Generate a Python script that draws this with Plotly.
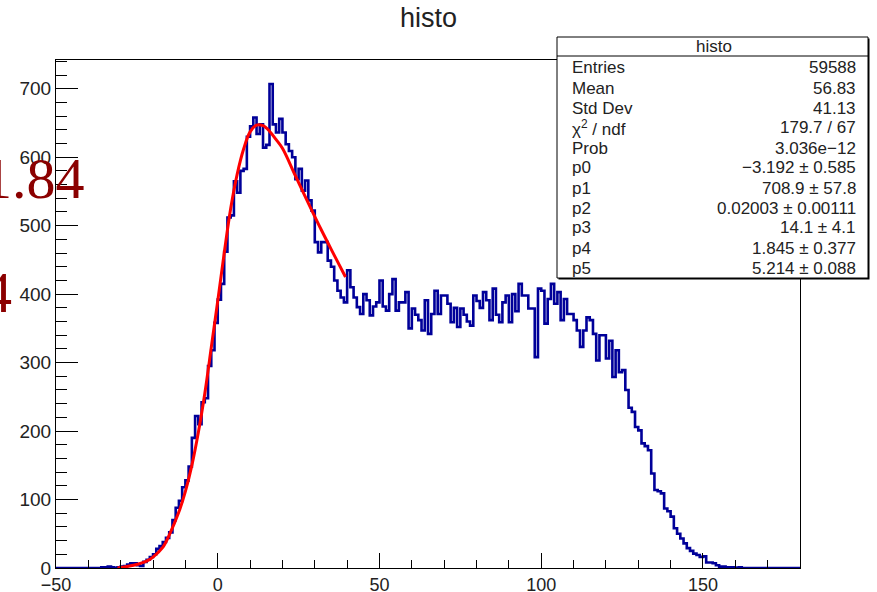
import numpy as np
import plotly.graph_objects as go

# ---------------- data ----------------
bin_low = -50
bin_width = 1
counts = (
    [0] * 14
    + [1, 1, 2, 1, 0, 1, 2, 3, 5, 7, 7, 4, 3, 9, 12, 16, 20, 28, 32, 38,
       44, 52, 70, 88, 98, 118, 128, 148, 190, 222, 210, 242, 248, 295, 318, 358]
    + [392, 415, 462, 512, 515, 565, 548, 580, 583, 630, 645, 658, 634, 648, 614,
       618, 707, 648, 636, 656, 636, 619, 609, 600, 568, 583, 551, 566, 537, 522,
       476, 461, 476, 476, 449, 440, 420, 405, 395, 388]
    + [435, 410, 395, 381, 371, 400, 391, 369, 382, 388, 420, 382, 376, 400, 422,
       376, 388, 388, 403, 350, 379, 370, 362, 347, 391, 342, 371, 405, 371, 398,
       398, 386, 359, 380, 352, 379, 370, 360, 354, 398]
    + [390, 380, 403, 391, 362, 408, 370, 359, 388, 398, 359, 400, 375, 415, 398,
       398, 379, 379, 308, 408, 405, 357, 393, 415, 386, 403, 362, 393, 371, 371,
       362, 347, 323, 347, 366, 362, 342, 303, 340, 340]
    + [306, 332, 279, 318, 286, 289, 260, 234, 228, 206, 201, 182, 178, 172, 138,
       114, 112, 109, 87, 83, 75, 58, 50, 43, 36, 29, 25, 21, 19, 16, 17, 8, 8, 7,
       4, 2, 2, 1, 1, 1, 0, 1]
    + [0] * 18
)

fit_x = [-31, -26, -22, -20, -17, -15, -12, -10, -8, -6, -4, -2, 0, 2, 4, 6, 8,
         10, 12, 14, 16, 18, 20, 24, 28, 32, 36, 39.5]
fit_y = [0, 4, 10, 16, 30, 48, 82, 112, 150, 198, 255, 322, 390, 460, 525, 575,
         612, 637, 647, 646, 638, 626, 613, 573, 533, 494, 457, 425]

stat_labels = ["Entries", "Mean", "Std Dev", "χ<sup>2</sup> / ndf", "Prob",
               "p0", "p1", "p2", "p3", "p4", "p5"]
stat_values = ["59588", "56.83", "41.13", "179.7 / 67", "3.036e−12",
               "−3.192 ± 0.585", "708.9 ± 57.8", "0.02003 ± 0.00111",
               "14.1 ± 4.1", "1.845 ± 0.377", "5.214 ± 0.088"]

title = "histo"
x_ticks = [-50, 0, 50, 100, 150]
y_ticks = [0, 100, 200, 300, 400, 500, 600, 700]

# ---------------- figure ----------------
W, H = 877, 592
L, R, T, B = 56, 800, 60, 568


def px(xp):
    return (xp - L) / (R - L)


def py(yp):
    return (B - yp) / (B - T)


edges = bin_low + bin_width * np.arange(len(counts) + 1)
step_y = list(counts) + [counts[-1]]

fig = go.Figure()
fig.add_trace(go.Scatter(x=edges, y=step_y, mode="lines", line_shape="hv",
                         line=dict(color="#000099", width=2.6), hoverinfo="skip"))
fig.add_trace(go.Scatter(x=fit_x, y=fit_y, mode="lines", line_shape="spline",
                         line=dict(color="#ff0000", width=3), hoverinfo="skip"))

font = "Liberation Sans, Arial, sans-serif"
axis_common = dict(showline=True, linecolor="black", linewidth=1, mirror=True,
                   showgrid=False, zeroline=False, ticks="inside", automargin=False,
                   tickcolor="black")

fig.update_xaxes(range=[-50, 180], tickvals=x_ticks, ticklen=15,
                 tickfont=dict(family=font, size=18, color="#222"),
                 minor=dict(dtick=10, ticklen=8, ticks="inside", tickcolor="black"),
                 **axis_common)
fig.update_yaxes(range=[0, 742], tickvals=y_ticks, ticklen=22,
                 tickfont=dict(family=font, size=19, color="#222"),
                 minor=dict(dtick=20, ticklen=11, ticks="inside", tickcolor="black"),
                 **axis_common)

# stats box
bx0, bx1, by0, by1 = 557, 868, 37, 278
shapes = [
    dict(type="rect", xref="paper", yref="paper", x0=px(bx0 + 1.5), x1=px(bx1 + 1.5),
         y0=py(by1 + 1.5), y1=py(by0 + 1.5), line=dict(width=0), fillcolor="black",
         layer="above"),
    dict(type="rect", xref="paper", yref="paper", x0=px(bx0), x1=px(bx1),
         y0=py(by1), y1=py(by0), line=dict(color="black", width=1),
         fillcolor="white", layer="above"),
    dict(type="line", xref="paper", yref="paper", x0=px(bx0), x1=px(bx1),
         y0=py(56), y1=py(56), line=dict(color="black", width=1), layer="above"),
]

ann = [
    dict(text=title, x=px(428), y=py(18), xref="paper", yref="paper",
         showarrow=False, font=dict(family=font, size=27, color="#222"),
         xanchor="center", yanchor="middle"),
    dict(text=title, x=px(714), y=py(46.5), xref="paper", yref="paper",
         showarrow=False, font=dict(family=font, size=17, color="#222"),
         xanchor="center", yanchor="middle"),
]
for i, (lab, val) in enumerate(zip(stat_labels, stat_values)):
    yy = 68 + 20 * i
    ann.append(dict(text=lab, x=px(570), y=py(yy), xref="paper", yref="paper",
                    showarrow=False, font=dict(family=font, size=17, color="#222"),
                    xanchor="left", yanchor="middle"))
    ann.append(dict(text=val, x=px(858), y=py(yy), xref="paper", yref="paper",
                    showarrow=False, font=dict(family=font, size=17, color="#222"),
                    xanchor="right", yanchor="middle"))

serif = "Liberation Serif, DejaVu Serif, serif"
ann.append(dict(text="1.84", x=px(87), y=py(178), xref="paper", yref="paper",
                showarrow=False, font=dict(family=serif, size=58, color="#8b0000"),
                xanchor="right", yanchor="middle"))
ann.append(dict(text="4", x=px(14), y=py(292), xref="paper", yref="paper",
                showarrow=False, font=dict(family=serif, size=58, color="#8b0000"),
                xanchor="right", yanchor="middle"))

fig.update_layout(width=W, height=H, margin=dict(l=L, r=W - R, t=T, b=H - B),
                  paper_bgcolor="white", plot_bgcolor="white", showlegend=False,
                  shapes=shapes, annotations=ann)

fig.write_html("out.html", config={"displayModeBar": False},
               post_script="document.body.style.margin='0';"
                           "document.body.style.overflow='hidden';")
